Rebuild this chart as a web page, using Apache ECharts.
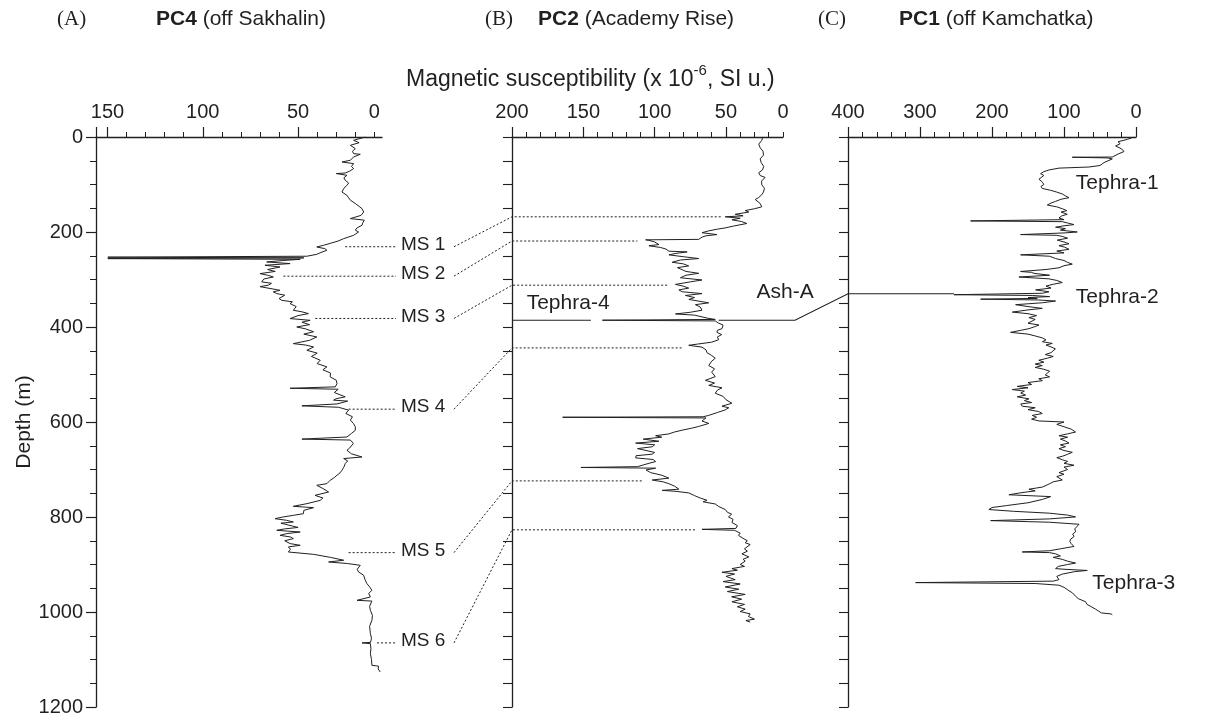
<!DOCTYPE html>
<html><head><meta charset="utf-8">
<script src="https://cdn.jsdelivr.net/npm/echarts@6/dist/echarts.min.js"></script>
<style>html,body{margin:0;padding:0;background:#fff}#c{width:1206px;height:718px}</style>
</head><body><div id="c"></div>
<script>
// ---------------- data ----------------
// profiles: [depth (m), magnetic susceptibility (x10^-6 SI)]
const pc4Profile = [[0,14.7],[7,20.9],[12,18],[17.5,22.6],[24.5,20],[30,21.5],[35,20.9],[36.4,17.4],[42,20.9],[49,22.6],[52.6,27],[56,20.9],[62,22],[66.5,20.9],[72,23],[75.8,25.3],[77,30],[80.6,24.4],[86,26],[91,25.3],[97,23.5],[101.7,24.4],[108,26],[115.8,27],[122.7,24.4],[128,23.5],[133,22.6],[140,20],[146,18],[150.8,16.5],[158,15.6],[165,17],[171.8,22.6],[175,15.3],[180,16],[186,16.5],[191,19],[196,20],[200,18.3],[207,20.9],[214,26.1],[219,29],[224,33.2],[228,36.7],[231.6,40.2],[235,36],[238.5,34.9],[243,38],[247,40.2],[251,45.4],[253,149.8],[254.5,47],[256,149.8],[257.5,48.9],[260,58],[263,66.5],[266.5,54.2],[270,67.4],[273.7,59.5],[279,66],[283,62],[287.6,70],[291,66],[294.7,63],[299,68],[305,69.1],[308,64],[312,65.6],[315,70],[319,69.1],[322.7,59.5],[326,63],[329.7,61.2],[333,57],[336.8,56],[340,60],[343.8,58.6],[347,53],[350.7,54.2],[357,51],[364.8,52.5],[368,48],[371.8,44.6],[376,50],[382.3,54.2],[385.9,43.7],[390,48],[395,44],[400,50.7],[404,46],[410,41.9],[415,47],[421,40.2],[428,44],[435,52.5],[438,46],[442,41.9],[449,45.4],[455,40],[462,43],[470,38.4],[477,40],[484,34.9],[490,37],[497,33],[505,33.2],[512,30],[519,29.6],[526,30.5],[529,54.2],[531,29],[538,31],[547,25.3],[551,30],[554,31.4],[556,24],[562,29.6],[566,48],[569,28.8],[575,23.5],[582,25],[589,21.5],[596,22.6],[603,21],[610,20],[617.5,20],[624,22],[631.6,24.4],[636,48],[638,22.6],[645,21],[649,20],[655,23],[659.6,24.4],[667,22],[673.7,16.5],[677,26.1],[682,24],[687.6,25.3],[695,26],[701.7,27],[707,28],[712,29.6],[717,31],[722.7,33.2],[729.8,34.9],[733.3,40.2],[740,37],[747.4,34],[754.4,41.1],[760,37],[765,38.4],[771.9,45.4],[777.5,52.5],[780.3,41.9],[786,47],[793,47.2],[796.5,52.5],[800,58],[803.5,62.1],[807,56],[810.5,52.5],[813,59],[816,60],[819,53],[822,50],[825,57],[828,61.2],[831.6,48.9],[835,56],[838.6,59.5],[842,54],[845.5,52.5],[850,57],[856,54.2],[859.6,48.9],[863,55.1],[868,54],[873.7,55.1],[878.6,41.9],[885,33],[891,26.1],[894.7,34],[898,24],[901.7,17.4],[905.3,16.5],[910,19],[915.8,18.3],[922.7,15.6],[931,15],[940.3,13.9],[947,12.5],[954.4,11.3],[961,13],[968.4,12.1],[975.4,19.1],[977,11.3],[988,12.5],[996.5,12.1],[1007,11],[1017.5,11.3],[1030,12.5],[1045.5,12.1],[1055,11.5],[1064,12],[1065,16.5],[1066.6,12.1],[1077,11.8],[1087.6,12.1],[1100,11.5],[1112.3,11.3],[1114,7.8],[1120,8],[1126.3,6.9]];

const pc2Profile = [[0,24.2],[7.3,24.9],[15,27],[22.8,26],[30,24],[38.3,23.7],[46,26],[53.9,25.3],[62,23.5],[69.4,24.4],[75,27],[81.1,26],[85,22.6],[93,25],[100.5,24.9],[108,23],[116,23.7],[122,25],[127.7,27.2],[131.6,29.5],[140,26],[147.1,24.9],[151,30],[154.9,36.5],[158,34],[162.7,43.5],[166,38],[168,50.5],[171,40],[174.3,45.8],[178,39],[182.1,35.4],[187.5,44.7],[191.4,50.5],[194,56],[197.6,62.1],[201.5,66.8],[205.4,56.3],[208,64],[210.8,66.8],[215.5,69.1],[216.5,106.3],[217.5,104],[221,100],[226.4,97],[229,104],[232.6,95.8],[236,92],[240.4,90],[241.9,77.2],[245,85],[248.1,90],[252,80],[255.9,69.1],[259,82],[263.7,87.7],[267,80],[271.4,76.1],[275,84],[279.2,85.4],[283,78],[287,69.1],[291,78],[296.3,81.9],[301,66.8],[305,75],[310.3,85.4],[314,80],[318.1,76.1],[322,83],[325.8,80.7],[329.7,66.8],[333.6,78.4],[338,72],[342,76],[349.1,62.1],[353,71.4],[358,68],[364.7,66.8],[369,75],[372.5,85.4],[375,72],[378.7,66.8],[382,62],[384.1,57.5],[385.7,136.6],[387.2,57.5],[391.9,55.1],[396,52],[403.5,52.8],[407,56],[411.3,56.3],[416,53],[421,56],[426.8,55.1],[432,60],[436,70],[438.5,76.1],[442.4,66.8],[448,64],[454,63.3],[460,60],[465.7,57.5],[472,60],[481.2,62.1],[488,58],[495,60],[504.5,57.5],[512.3,64.4],[518,58],[523,62],[527.9,52.8],[533,56],[539.5,57.5],[546,52],[553,50],[560.5,45.8],[566.7,52.8],[570,48],[574.5,50.5],[580,56],[586.1,62.1],[589,66],[590,164.5],[591.5,64],[597.8,66.8],[603,62],[609.4,69.1],[613,74],[617.2,80.7],[621,86],[625,90],[628.9,99.3],[632,95],[636,108],[640.5,97],[644.4,113.3],[648,100],[652.2,101.7],[656,112],[659.9,112.1],[664,100],[667.7,101.7],[671,113],[675.5,113.3],[679,101],[683.3,99.3],[687,104],[691,102.8],[694,112],[695.7,151.7],[697.2,99.3],[701,106],[706.6,102.8],[712,95],[718.2,90],[722.1,101.7],[726,94],[729.9,90],[735,86],[741.5,83],[743.9,94.7],[746,85],[749.3,76.1],[755,72],[760,68],[764.8,63.3],[768,66],[772.6,57.5],[778,55],[784.3,50.5],[790,49],[794,46],[799.8,48.2],[805,45],[811.5,45.8],[818,42],[824,43],[826,66.8],[828,44],[830.9,43.5],[834,40],[838.6,41.2],[845,38],[850,35],[854.2,36.5],[858,33],[862,34.2],[867,37],[872,35],[877.5,38.8],[884,34],[889,38],[893,36.5],[900,40],[904,37],[908.6,45.8],[912,42],[916.4,52.8],[920,44],[925,50],[931.9,43.5],[936,52],[941,40],[947.4,50.5],[952,41],[957,49],[963,36.5],[968,46],[973,39],[978.5,45.8],[984,37],[989,42],[994,36.5],[999,40],[1004,33],[1009.6,34.2],[1015,30],[1018,36],[1021.3,33]];

const pc1Profile = [[0,3],[5,12],[10,25],[14,22],[18.9,28.3],[25,20],[30.6,16.7],[36,25],[42.2,32.9],[42.6,88.5],[44,40],[46.1,32.9],[53.9,44.5],[60,50],[63.2,65.4],[65.5,107],[69.4,120.9],[73,128],[77.2,132.5],[81,128],[85,125.5],[88.9,134.8],[95,130],[100,128],[104,132],[108.3,130.2],[112.2,118.6],[116,110],[119.9,102.4],[124,98],[127.7,93.1],[131,104],[135.5,111.7],[139,118],[143.2,123.2],[147,110],[151,102.4],[155,96],[158,104],[162.7,95.5],[166,103],[170.4,107],[174,100],[176.7,229.7],[178.2,102.4],[181,95],[184.4,86.2],[187,100],[189.9,111.7],[193,98],[196,105],[200,81.6],[202,100],[205.4,160.3],[207,110],[209.3,102.4],[213,95],[217.1,109.3],[221,100],[224.8,93.1],[228.7,107],[232,99],[236.5,93.1],[240,110],[244,100],[248.1,160.3],[251,120],[255.9,111.7],[260,100],[264,95],[267.6,88.5],[271,100],[275.3,107],[279,125],[283.1,160.3],[285,145],[287,141.8],[291,120],[294.8,162.6],[298.6,120.9],[302,110],[306.4,102.4],[310,115],[314,125],[318,118],[321.9,139.4],[325.8,120.9],[329,130],[332,252.9],[333.6,144.1],[336,120],[338,150],[339.8,137.1],[341.4,215.8],[343,137.1],[345.3,111.7],[349,130],[353,167.2],[357,150],[360.8,130.2],[364,150],[368.6,171.8],[372,150],[376,138],[380.2,148.7],[384,140],[388,139.4],[392,150],[395.8,134.8],[399,140],[403.5,148.7],[407,160],[411.3,174.2],[415,150],[419.1,139.4],[423,130],[427,125],[431,130],[434.6,116.3],[438,125],[442,118],[446,112],[450.2,109.3],[454,118],[458,126],[462,115],[465.7,123.2],[470,135],[474,128],[478,140],[481.2,130.2],[485,140],[489,128],[493,120],[496.8,118.6],[501,126],[505,120],[509,135],[513,130],[517,150],[521,145],[525,165],[528,150],[531.7,171.8],[535,155],[539,160],[543.4,153.3],[547,165],[551.2,148.7],[555,155],[559,145],[562,160],[566.7,158],[570,140],[574,150],[578,135],[582.2,130.2],[586.1,144.1],[590,138],[594,145],[597.8,134.8],[600,100],[601.7,97.8],[605,110],[610,100],[615,90],[621.1,83.9],[625,95],[628.9,107],[632,95],[636,105],[640,98],[644.4,93.1],[648,105],[652,98],[656.1,107],[660,100],[663.8,88.5],[668,95],[672,102],[675,110],[679.4,102.4],[683,95],[687,100],[691,86.2],[695,100],[700,95],[706.6,107],[710,100],[715,110],[722.1,102.4],[726,115],[730,120],[733.8,118.6],[737,130],[741.5,148.7],[745,140],[749,160],[753.2,176.5],[757.1,118.6],[763,130],[770,150],[776,180],[780,200],[784.3,204.3],[788,170],[792,120],[796,95],[799.8,83.9],[804,120],[807.6,201.9],[811,120],[815.3,79.2],[820,82],[825,85],[830.9,83.9],[836,88],[841,86],[846.4,90.5],[851,92],[856,90],[862,86.2],[867,105],[871,120],[873.6,158],[875,120],[877.5,111.7],[882,105],[885,115],[889.2,102.4],[893,95],[896.9,83.9],[900,95],[904,108],[908.6,111.7],[910,100],[912.5,67.7],[915,85],[920.2,102.4],[925,110],[931.9,107],[935,115],[938.1,306.1],[940,140],[943.6,107],[948,100],[955.2,93.1],[960,88],[966.9,83.9],[972,80],[978.5,70],[984,68],[989,62],[994.1,56.1],[998,52],[1002,48],[1004,35],[1005.7,32.9]];

// panel titles
const panelLetters = ['(A)', '(B)', '(C)'];
const panelCores = ['PC4', 'PC2', 'PC1'];
const panelSites = [' (off Sakhalin)', ' (Academy Rise)', ' (off Kamchatka)'];

// x axis ranges, ticks and tick labels (as printed on the figure)
const rangeA = [6, 156], rangeB = [10, 200], rangeC = [0, 400];
const majorTicksA = [50, 100, 150, 156];
const minorTicksA = [10, 20, 30, 40, 50, 60, 70, 80, 90, 100, 110, 120, 130, 140, 150];
const labelValuesA = [10, 50, 100, 150];
const labelTextsA = ['0', '50', '100', '150'];
const majorTicksB = [50, 100, 150, 200];
const minorTicksB = [10, 20, 30, 40, 50, 60, 70, 80, 90, 100, 110, 120, 130, 140, 150, 160, 170, 180, 190, 200];
const labelValuesB = [10, 50, 100, 150, 200];
const labelTextsB = ['0', '50', '100', '150', '200'];
const majorTicksC = [0, 100, 200, 300, 400];
const minorTicksC = [0, 20, 40, 60, 80, 100, 120, 140, 160, 180, 200, 220, 240, 260, 280, 300, 320, 340, 360, 380, 400];
const labelValuesC = [0, 100, 200, 300, 400];
const labelTextsC = ['0', '100', '200', '300', '400'];

// correlation tie-lines MS 1..6 (PC4 depth -> PC2 depth)
const msNames = ['MS 1', 'MS 2', 'MS 3', 'MS 4', 'MS 5', 'MS 6'];
const msDepthPC4 = [231, 293, 382, 573, 875, 1065];
const msStartPC4 = [25.3, 57.7, 41, 23.5, 23.5, 8.6];
const msDepthPC2 = [168, 219, 312, 444, 724, 827];
const msEndPC2 = [52.8, 112.1, 90, 80.7, 108.6, 71.4];

// tephra markers
const tephra4Line = [[200, 385.7], [144.7, 385.7]];           // PC2 [value, depth]
const ashAPC2 = [[55.1, 385.7], [1.6, 385.7]];                 // PC2 [value, depth]
const ashAPC1 = [[400, 330], [252.9, 330]];                    // PC1 [value, depth]
const tephraNames = ['Tephra-1', 'Tephra-2', 'Tephra-3', 'Tephra-4', 'Ash-A'];
const tephraPanel = [2, 2, 2, 1, 1];
const tephraLabelAt = [[83.6, 96.6], [83.6, 337.5], [60.6, 939.7], [189.7, 349], [28.6, 325.8]];

// ---------------- chart ----------------
const INK = '#231f20';
const SANS = '"Liberation Sans", Arial, Helvetica, sans-serif';
const SERIF = '"Liberation Serif", "Times New Roman", serif';
const chart = echarts.init(document.getElementById('c'), null, {renderer: 'canvas'});

const grids = [
  {left: 96, top: 137, width: 286, height: 570},
  {left: 512, top: 137, width: 271, height: 570},
  {left: 848, top: 137, width: 288, height: 570}
];
const ranges = [rangeA, rangeB, rangeC];
const majors = [majorTicksA, majorTicksB, majorTicksC];
const minors = [minorTicksA, minorTicksB, minorTicksC];
const labVals = [labelValuesA, labelValuesB, labelValuesC];
const labTxt = [labelTextsA, labelTextsB, labelTextsC];

const xAxes = [];
for (let g = 0; g < 3; g++) {
  xAxes.push({
    type: 'value', gridIndex: g, position: 'top', inverse: true,
    min: ranges[g][0], max: ranges[g][1],
    axisLine: {show: true, onZero: false, lineStyle: {color: INK, width: 1.3}},
    axisTick: {show: true, inside: false, length: 10, customValues: majors[g], lineStyle: {color: INK, width: 1.2}},
    axisLabel: {show: true, customValues: labVals[g], margin: 15, color: INK, fontSize: 20, fontFamily: SANS,
      formatter: (v) => { const i = labVals[g].indexOf(v); return i >= 0 ? labTxt[g][i] : ''; }},
    splitLine: {show: false}
  });
  xAxes.push({
    type: 'value', gridIndex: g, position: 'top', inverse: true,
    min: ranges[g][0], max: ranges[g][1],
    axisLine: {show: false, onZero: false},
    axisTick: {show: true, inside: false, length: 5, customValues: minors[g], lineStyle: {color: INK, width: 1}},
    axisLabel: {show: false}, splitLine: {show: false}
  });
}

const yAxes = [
  {type: 'value', gridIndex: 0, position: 'left', inverse: true, min: 0, max: 1200, interval: 200,
   name: 'Depth (m)', nameLocation: 'middle', nameGap: 60, nameRotate: 90,
   nameTextStyle: {color: INK, fontSize: 21, fontFamily: SANS},
   axisLine: {show: true, onZero: false, lineStyle: {color: INK, width: 1.3}},
   axisTick: {show: true, length: 10, lineStyle: {color: INK, width: 1.2}},
   minorTick: {show: true, splitNumber: 4, length: 6, lineStyle: {color: INK, width: 1}},
   axisLabel: {color: INK, fontSize: 20, fontFamily: SANS, margin: 13, formatter: (v) => String(v)},
   splitLine: {show: false}, minorSplitLine: {show: false}},
  {type: 'value', gridIndex: 1, position: 'left', inverse: true, min: 0, max: 1200, interval: 50,
   axisLine: {show: true, onZero: false, lineStyle: {color: INK, width: 1.3}},
   axisTick: {show: true, length: 9, lineStyle: {color: INK, width: 1.1}},
   axisLabel: {show: false}, splitLine: {show: false}},
  {type: 'value', gridIndex: 2, position: 'left', inverse: true, min: 0, max: 1200, interval: 50,
   axisLine: {show: true, onZero: false, lineStyle: {color: INK, width: 1.3}},
   axisTick: {show: true, length: 9, lineStyle: {color: INK, width: 1.1}},
   axisLabel: {show: false}, splitLine: {show: false}}
];

const profiles = [pc4Profile, pc2Profile, pc1Profile];
const series = profiles.map((p, g) => ({
  type: 'line', name: panelCores[g], xAxisIndex: g * 2, yAxisIndex: g,
  data: p.map(([d, v]) => [v, d]), showSymbol: false, symbol: 'none', silent: true,
  lineStyle: {color: INK, width: 1}, animation: false
}));

chart.setOption({
  animation: false,
  backgroundColor: '#ffffff',
  grid: grids,
  xAxis: xAxes,
  yAxis: yAxes,
  series: series
});

// ---------------- annotations ----------------
function px(g, v, d) {
  return [chart.convertToPixel({xAxisIndex: g * 2}, v), chart.convertToPixel({yAxisIndex: g}, d)];
}
const graphics = [];
const titleX = [[57, 156], [485, 538], [818, 899]];
for (let g = 0; g < 3; g++) {
  graphics.push({type: 'text', x: titleX[g][0], y: 19,
    style: {text: panelLetters[g], fill: INK, font: '21px ' + SERIF, align: 'left', verticalAlign: 'middle'}});
  graphics.push({type: 'text', x: titleX[g][1], y: 19,
    style: {text: '{b|' + panelCores[g] + '}{n|' + panelSites[g] + '}', align: 'left', verticalAlign: 'middle',
      rich: {b: {fontWeight: 'bold', fontSize: 21, fontFamily: SANS, fill: INK, color: INK},
             n: {fontSize: 21, fontFamily: SANS, fill: INK, color: INK}}}});
}
graphics.push({type: 'text', x: 406, y: 77,
  style: {text: '{n|Magnetic susceptibility (x 10}{s|-6}{n|, SI u.)}', align: 'left', verticalAlign: 'middle',
    rich: {n: {fontSize: 23, fontFamily: SANS, fill: INK, color: INK, lineHeight: 28, verticalAlign: 'bottom'},
           s: {fontSize: 15, fontFamily: SANS, fill: INK, color: INK, lineHeight: 28, verticalAlign: 'top'}}}});

const dotted = {stroke: INK, lineWidth: 1, lineDash: [2, 2], fill: null};
for (let i = 0; i < msNames.length; i++) {
  const a = px(0, msStartPC4[i], msDepthPC4[i]);
  graphics.push({type: 'polyline', shape: {points: [a, [396, a[1]]]}, style: dotted, silent: true});
  graphics.push({type: 'text', x: 401, y: a[1] - 2,
    style: {text: msNames[i], fill: INK, font: '19px ' + SANS, align: 'left', verticalAlign: 'middle'}});
  const b0 = px(1, 200, msDepthPC2[i]);
  const b1 = px(1, msEndPC2[i], msDepthPC2[i]);
  graphics.push({type: 'polyline', shape: {points: [[454, a[1]], b0, b1]}, style: dotted, silent: true});
}
const solid = {stroke: INK, lineWidth: 1.1, fill: null};
graphics.push({type: 'polyline', shape: {points: tephra4Line.map(([v, d]) => px(1, v, d))}, style: solid, silent: true});
graphics.push({type: 'polyline', shape: {points: ashAPC2.map(([v, d]) => px(1, v, d)).concat(ashAPC1.map(([v, d]) => px(2, v, d)))}, style: solid, silent: true});
for (let i = 0; i < tephraNames.length; i++) {
  const p = px(tephraPanel[i], tephraLabelAt[i][0], tephraLabelAt[i][1]);
  graphics.push({type: 'text', x: p[0], y: p[1],
    style: {text: tephraNames[i], fill: INK, font: '21px ' + SANS, align: 'left', verticalAlign: 'middle'}});
}
chart.setOption({graphic: graphics});
</script>
</body></html>
